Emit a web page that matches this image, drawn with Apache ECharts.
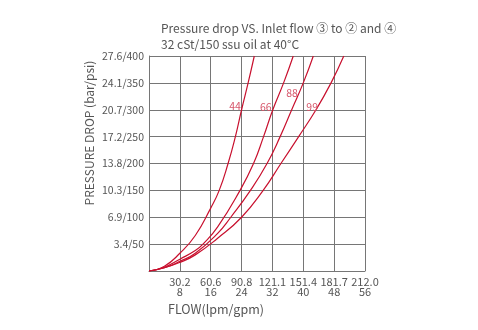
<!DOCTYPE html>
<html>
<head>
<meta charset="utf-8">
<script src="https://cdn.jsdelivr.net/npm/echarts@6/dist/echarts.min.js"></script>
<style>
html,body{margin:0;padding:0;background:#fff;}
#c{width:478px;height:330px;}
</style>
</head>
<body>
<div id="c"></div>
<script>
// Tick labels
const xLpm = ['', '30.2', '60.6', '90.8', '121.1', '151.4', '181.7', '212.0'];
const xGpm = ['', '8', '16', '24', '32', '40', '48', '56'];
const yLabels = ['', '3.4/50', '6.9/100', '10.3/150', '13.8/200', '17.2/250', '20.7/300', '24.1/350', '27.6/400'];

// Series names
const seriesNames = ['44', '66', '88', '99'];

// Curves: [flow gpm, pressure psi]
const curve44 = [[0,0],[4,9],[8,33],[12,66],[16,117],[18.2,150],[20.5,200],[22.4,250],[24,300],[25.7,350],[27.3,400]];
const curve66 = [[0,0],[4,7],[8,22],[12,38],[14,50],[17.8,82],[23.6,150],[27.1,200],[29.7,250],[32.1,300],[34.9,350],[37.4,400]];
const curve88 = [[0,0],[4,6],[8,18],[12,33],[17.8,70],[21.2,100],[26.3,150],[30.6,200],[34,250],[37,300],[40,350],[42.6,400]];
const curve99 = [[0,0],[4,6],[8,16],[12,30],[17.8,61],[24,100],[29.6,150],[34.2,200],[38.8,250],[43.3,300],[47.2,350],[50.5,400]];

// Curve label anchor points (gpm, psi)
const labelPoints = [[22.3,307],[30.3,306],[37.1,332],[42.3,306]];

const curves = [curve44, curve66, curve88, curve99];

const chart = echarts.init(document.getElementById('c'), null, {renderer: 'canvas'});
const FONT = '"Noto Sans CJK SC", "Noto Sans", sans-serif';
const gridColor = '#767676';
const lineColor = '#c8102e';
const labelColor = '#d6566a';

const option = {
  animation: false,
  backgroundColor: '#fff',
  title: {
    text: 'Pressure drop VS. Inlet flow \u2462 to \u2461 and \u2463\n32 cSt/150 ssu oil at 40\u00B0C',
    left: 156,
    top: 15,
    textStyle: {
      fontFamily: FONT,
      fontSize: 12,
      fontWeight: 'normal',
      color: '#555',
      lineHeight: 16.5
    }
  },
  grid: {left: 149, right: 113, top: 56, bottom: 59, containLabel: false},
  xAxis: {
    type: 'value',
    min: 0, max: 56, interval: 8,
    axisLine: {show: true, lineStyle: {color: gridColor, width: 1}},
    axisTick: {show: false},
    splitLine: {show: true, lineStyle: {color: gridColor, width: 1}},
    axisLabel: {
      show: true,
      margin: 6,
      showMinLabel: true,
      showMaxLabel: true,
      fontFamily: FONT,
      fontSize: 11,
      lineHeight: 10,
      color: '#555',
      formatter: function (v) {
        const i = Math.round(v / 8);
        if (!xLpm[i]) return '';
        return xLpm[i] + '\n' + xGpm[i];
      }
    }
  },
  yAxis: {
    type: 'value',
    min: 0, max: 400, interval: 50,
    axisLine: {show: true, lineStyle: {color: gridColor, width: 1}},
    axisTick: {show: false},
    splitLine: {show: true, lineStyle: {color: gridColor, width: 1}},
    axisLabel: {
      show: true,
      margin: 5,
      fontFamily: FONT,
      fontSize: 10.5,
      color: '#555',
      formatter: function (v) {
        return yLabels[Math.round(v / 50)] || '';
      }
    }
  },
  graphic: [
    {
      type: 'text',
      x: 89, y: 133,
      rotation: Math.PI / 2,
      style: {
        text: 'PRESSURE DROP (bar/psi)',
        font: '12px ' + FONT,
        fill: '#555',
        textAlign: 'center',
        textVerticalAlign: 'middle'
      }
    },
    {
      type: 'text',
      x: 168, y: 309,
      style: {
        text: 'FLOW(lpm/gpm)',
        font: '12.5px ' + FONT,
        fill: '#555',
        textAlign: 'left',
        textVerticalAlign: 'middle'
      }
    }
  ],
  series: curves.map(function (d, i) {
    return {
      name: seriesNames[i],
      type: 'line',
      data: d,
      smooth: true,
      symbol: 'none',
      clip: true,
      lineStyle: {color: lineColor, width: 1.2},
      markPoint: {
        symbol: 'circle',
        symbolSize: 0,
        silent: true,
        label: {
          show: true,
          position: 'inside',
          formatter: seriesNames[i],
          fontFamily: FONT,
          fontSize: 10.5,
          color: labelColor
        },
        data: [{coord: labelPoints[i], value: seriesNames[i]}]
      }
    };
  })
};
chart.setOption(option);
</script>
</body>
</html>
